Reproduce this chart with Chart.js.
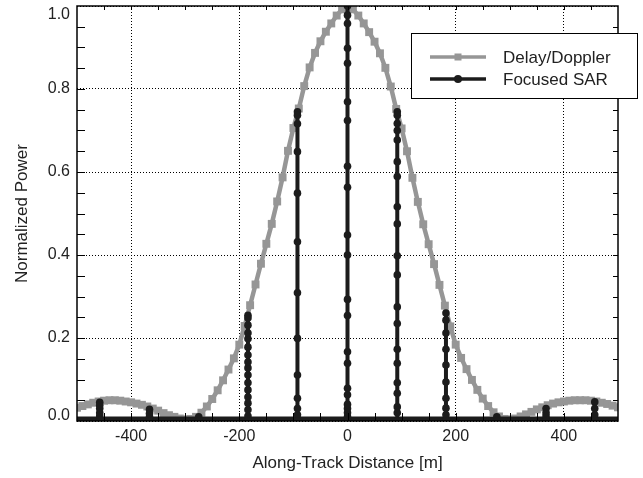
<!DOCTYPE html>
<html>
<head>
<meta charset="utf-8">
<script src="https://cdn.jsdelivr.net/npm/chart.js@4.4.0/dist/chart.umd.min.js"></script>
<style>
  html, body { margin: 0; padding: 0; background: #fff; }
  canvas { display: block; }
</style>
</head>
<body>
<canvas id="psfChart" width="643" height="478"></canvas>
<script>
// Delay/Doppler along-track response, sampled every 10 m
var ddDist = [-500, -490, -480, -470, -460, -450, -440, -430, -420, -410,
              -400, -390, -380, -370, -360, -350, -340, -330, -320, -310,
              -300, -290, -280, -270, -260, -250, -240, -230, -220, -210,
              -200, -190, -180, -170, -160, -150, -140, -130, -120, -110,
              -100, -90, -80, -70, -60, -50, -40, -30, -20, -10,
              0, 10, 20, 30, 40, 50, 60, 70, 80, 90,
              100, 110, 120, 130, 140, 150, 160, 170, 180, 190,
              200, 210, 220, 230, 240, 250, 260, 270, 280, 290,
              300, 310, 320, 330, 340, 350, 360, 370, 380, 390,
              400, 410, 420, 430, 440, 450, 460, 470, 480, 490, 500];
var ddPower = [0.032, 0.036, 0.040, 0.044, 0.047, 0.049, 0.050, 0.050, 0.049, 0.047,
               0.045, 0.042, 0.039, 0.035, 0.030, 0.025, 0.019, 0.014, 0.010, 0.006,
               0.004, 0.005, 0.010, 0.020, 0.035, 0.053, 0.074, 0.098, 0.124, 0.151,
               0.184, 0.229, 0.279, 0.329, 0.379, 0.427, 0.475, 0.529, 0.587, 0.651,
               0.706, 0.753, 0.807, 0.852, 0.887, 0.915, 0.938, 0.958, 0.977, 0.992,
               1.000, 0.992, 0.977, 0.958, 0.937, 0.914, 0.886, 0.851, 0.806, 0.752,
               0.705, 0.650, 0.586, 0.528, 0.474, 0.426, 0.378, 0.328, 0.278, 0.228,
               0.184, 0.152, 0.125, 0.099, 0.075, 0.054, 0.036, 0.021, 0.011, 0.005,
               0.004, 0.006, 0.011, 0.016, 0.022, 0.028, 0.033, 0.038, 0.042, 0.045,
               0.047, 0.049, 0.050, 0.050, 0.050, 0.049, 0.047, 0.044, 0.041, 0.037, 0.033];

// Focused SAR: narrow peaks at these along-track positions, zero in between
var sarPeakDist = [-458, -366, -275, -184, -92.5, 0, 92, 182, 276, 367, 457];
// samples up and down each peak
var sarSamples = [
  [0.012, 0.030, 0.045, 0.038, 0.020],
  [0.010, 0.028, 0.018],
  [0.010],
  [0.027, 0.058, 0.092, 0.128, 0.159, 0.198, 0.231, 0.255, 0.248, 0.212, 0.178, 0.142, 0.111, 0.075, 0.043, 0.012],
  [0.030, 0.111, 0.309, 0.549, 0.716, 0.745, 0.737, 0.649, 0.432, 0.199, 0.055, 0.015],
  [0.010, 0.030, 0.063, 0.139, 0.254, 0.400, 0.563, 0.724, 0.862, 0.958, 1.000, 0.978, 0.898, 0.769, 0.614, 0.448, 0.293, 0.167, 0.079, 0.040, 0.020],
  [0.020, 0.067, 0.139, 0.235, 0.352, 0.475, 0.589, 0.677, 0.717, 0.745, 0.737, 0.700, 0.625, 0.516, 0.398, 0.275, 0.173, 0.092, 0.034],
  [0.015, 0.055, 0.135, 0.212, 0.260, 0.243, 0.173, 0.094, 0.031],
  [0.010],
  [0.012, 0.030, 0.020],
  [0.015, 0.046, 0.030]
];

var xTicks = [-400, -200, 0, 200, 400];
var yTicks = [0, 0.2, 0.4, 0.6, 0.8, 1.0];

var seriesNames = ['Delay/Doppler', 'Focused SAR'];
var grayColor = '#969696';
var darkColor = '#1c1c1c';
var fontFamily = '"Liberation Sans", Arial, Helvetica, sans-serif';

var ddPoints = ddDist.map(function (d, i) { return { x: d, y: ddPower[i] }; });

var sarPoints = [{ x: -500, y: 0 }];
sarPeakDist.forEach(function (d, k) {
  sarPoints.push({ x: d, y: 0 });
  sarSamples[k].forEach(function (p) { sarPoints.push({ x: d, y: p }); });
  sarPoints.push({ x: d, y: 0 });
});
sarPoints.push({ x: 500, y: 0 });

// box, inward ticks, y labels and the legend
var framePlugin = {
  id: 'frame',
  afterDraw: function (chart) {
    var ctx = chart.ctx, a = chart.chartArea;
    var xs = chart.scales.x, ys = chart.scales.y;
    ctx.save();
    ctx.strokeStyle = '#000';
    ctx.lineWidth = 1;
    var v, p;
    for (v = -450; v <= 450; v += 50) {
      p = Math.round(xs.getPixelForValue(v)) + 0.5;
      ctx.beginPath();
      ctx.moveTo(p, a.top); ctx.lineTo(p, a.top + 4);
      ctx.moveTo(p, a.bottom); ctx.lineTo(p, a.bottom - 8);
      ctx.stroke();
    }
    for (v = 1; v < 20; v++) {
      p = Math.round(ys.getPixelForValue(v * 0.05)) + 0.5;
      ctx.beginPath();
      ctx.moveTo(a.left, p); ctx.lineTo(a.left + 8, p);
      ctx.moveTo(a.right, p); ctx.lineTo(a.right - 5, p);
      ctx.stroke();
    }
    ctx.lineWidth = 1.5;
    ctx.strokeRect(a.left, a.top, a.right - a.left, a.bottom - a.top);

    ctx.fillStyle = '#222';
    ctx.font = '16px ' + fontFamily;
    ctx.textAlign = 'right';
    ctx.textBaseline = 'middle';
    yTicks.forEach(function (t) {
      var y = ys.getPixelForValue(t);
      y = Math.min(Math.max(y, a.top + 9), a.bottom - 5);
      ctx.fillText(t.toFixed(1), a.left - 7, y);
    });

    // legend
    var lx = 411.5, ly = 33.5, lw = 226, lh = 65;
    ctx.fillStyle = '#fff';
    ctx.fillRect(lx, ly, lw, lh);
    ctx.lineWidth = 1;
    ctx.strokeStyle = '#000';
    ctx.strokeRect(lx, ly, lw, lh);
    var rows = [57, 79];
    ctx.lineWidth = 3.5;
    ctx.strokeStyle = grayColor;
    ctx.beginPath(); ctx.moveTo(430, rows[0]); ctx.lineTo(486, rows[0]); ctx.stroke();
    ctx.fillStyle = grayColor;
    ctx.fillRect(454.5, rows[0] - 3.5, 7, 7);
    ctx.lineWidth = 3.5;
    ctx.strokeStyle = darkColor;
    ctx.beginPath(); ctx.moveTo(430, rows[1]); ctx.lineTo(486, rows[1]); ctx.stroke();
    ctx.fillStyle = darkColor;
    ctx.beginPath(); ctx.arc(458, rows[1], 4, 0, Math.PI * 2); ctx.fill();
    ctx.fillStyle = '#222';
    ctx.font = '17px ' + fontFamily;
    ctx.textAlign = 'left';
    ctx.fillText(seriesNames[0], 503, rows[0] + 1);
    ctx.fillText(seriesNames[1], 503, rows[1] + 1);
    ctx.restore();
  }
};

new Chart(document.getElementById('psfChart'), {
  type: 'line',
  data: {
    datasets: [{
      label: seriesNames[1],
      data: sarPoints,
      borderColor: darkColor,
      backgroundColor: darkColor,
      borderWidth: 4,
      // the zero floor between peaks is drawn heavier
      segment: {
        borderWidth: function (c) { return (c.p0.parsed.y === 0 && c.p1.parsed.y === 0) ? 9 : 4; }
      },
      pointRadius: function (c) { return (c.dataIndex === 0 || c.dataIndex === sarPoints.length - 1) ? 0 : 3.8; },
      pointBorderWidth: 0,
      pointBackgroundColor: darkColor,
      tension: 0
    }, {
      label: seriesNames[0],
      data: ddPoints,
      borderColor: grayColor,
      backgroundColor: grayColor,
      borderWidth: 4.5,
      pointStyle: 'rect',
      pointRadius: 5.6,
      pointBorderWidth: 0,
      pointBackgroundColor: grayColor,
      tension: 0
    }]
  },
  options: {
    responsive: false,
    animation: false,
    devicePixelRatio: 1,
    layout: { padding: { top: 6, right: 25, left: 0, bottom: 0 } },
    plugins: {
      legend: { display: false },
      tooltip: { enabled: false }
    },
    scales: {
      x: {
        type: 'linear',
        min: -500,
        max: 500,
        afterFit: function (s) { s.height = 57; },
        afterBuildTicks: function (s) { s.ticks = xTicks.map(function (v) { return { value: v }; }); },
        grid: { color: '#000', lineWidth: 1, drawTicks: false },
        border: { display: false, dash: [1, 2] },
        ticks: {
          color: '#222',
          padding: 6,
          maxRotation: 0,
          font: { family: fontFamily, size: 16 },
          callback: function (v) { return String(v); }
        },
        title: {
          display: true,
          text: 'Along-Track Distance [m]',
          color: '#222',
          font: { family: fontFamily, size: 17 },
          padding: { top: 0, bottom: 4 }
        }
      },
      y: {
        type: 'linear',
        min: 0,
        max: 1,
        afterFit: function (s) { s.width = 77; },
        afterBuildTicks: function (s) { s.ticks = yTicks.map(function (v) { return { value: v }; }); },
        grid: { color: '#000', lineWidth: 1, drawTicks: false },
        border: { display: false, dash: [1, 2] },
        ticks: { display: false },
        title: {
          display: true,
          text: 'Normalized Power',
          color: '#222',
          font: { family: fontFamily, size: 17 },
          padding: { top: 12, bottom: 0 }
        }
      }
    }
  },
  plugins: [framePlugin]
});
</script>
</body>
</html>
